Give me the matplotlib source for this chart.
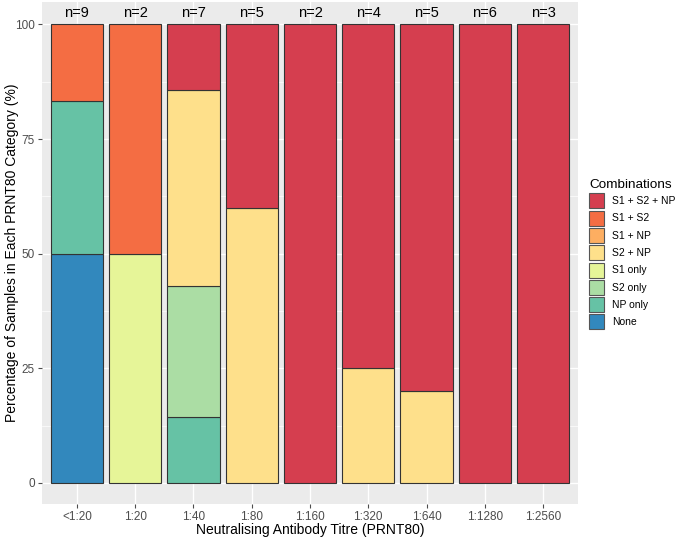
import matplotlib
matplotlib.use("Agg")
import matplotlib.pyplot as plt
from matplotlib.patches import Patch
import numpy as np

plt.rcParams['font.family'] = ['Liberation Sans', 'DejaVu Sans']

titres = ['<1:20', '1:20', '1:40', '1:80', '1:160', '1:320', '1:640', '1:1280', '1:2560']
n_labels = ['n=9', 'n=2', 'n=7', 'n=5', 'n=2', 'n=4', 'n=5', 'n=6', 'n=3']

# stacking order bottom -> top
combos = ['None', 'NP only', 'S2 only', 'S1 only', 'S2 + NP', 'S1 + NP', 'S1 + S2', 'S1 + S2 + NP']
colours = ['#3288BD', '#66C2A5', '#ABDDA4', '#E6F598', '#FEE08B', '#FDAE61', '#F46D43', '#D53E4F']

pct_none = [50, 0, 0, 0, 0, 0, 0, 0, 0]
pct_np = [33.3, 0, 14.3, 0, 0, 0, 0, 0, 0]
pct_s2 = [0, 0, 28.6, 0, 0, 0, 0, 0, 0]
pct_s1 = [0, 50, 0, 0, 0, 0, 0, 0, 0]
pct_s2np = [0, 0, 42.9, 60, 0, 25, 20, 0, 0]
pct_s1np = [0, 0, 0, 0, 0, 0, 0, 0, 0]
pct_s1s2 = [16.7, 50, 0, 0, 0, 0, 0, 0, 0]
pct_all = [0, 0, 14.3, 40, 100, 75, 80, 100, 100]

series = [pct_none, pct_np, pct_s2, pct_s1, pct_s2np, pct_s1np, pct_s1s2, pct_all]

fig = plt.figure(figsize=(6.85, 5.39), dpi=100)
ax = fig.add_axes([42 / 685, 1 - 504 / 539, (578 - 42) / 685, (504 - 2) / 539])
ax.set_facecolor('#EBEBEB')

x = np.arange(len(titres))
bottom = np.zeros(len(titres))
for vals, col in zip(series, colours):
    vals = np.array(vals, dtype=float)
    mask = vals > 0
    ax.bar(x[mask], vals[mask], bottom=bottom[mask], width=0.9, color=col,
           edgecolor='#333333', linewidth=0.8, zorder=3)
    bottom += vals

for xi, lab in zip(x, n_labels):
    ax.text(xi, 102.6, lab, ha='center', va='center', fontsize=10.5, color='black')

ax.set_xlim(-0.6, len(titres) - 0.4)
ax.set_ylim(-4.6, 104.9)
ax.set_yticks([0, 25, 50, 75, 100])
ax.set_yticks([12.5, 37.5, 62.5, 87.5], minor=True)
ax.set_xticks(x)
ax.set_xticklabels(titres)
ax.grid(which='major', color='white', linewidth=1.0, zorder=0)
ax.grid(which='minor', axis='y', color='white', linewidth=0.5, zorder=0)
ax.tick_params(axis='both', which='major', colors='#4D4D4D', labelcolor='#4D4D4D',
               labelsize=8.5, length=3, width=0.8, pad=2)
ax.tick_params(axis='y', which='minor', length=0)
for s in ax.spines.values():
    s.set_visible(False)

ax.set_xlabel('Neutralising Antibody Titre (PRNT80)', fontsize=10)
ax.set_ylabel('Percentage of Samples in Each PRNT80 Category (%)', fontsize=10)
ax.xaxis.set_label_coords(0.5, -(530 - 504) / 502)
ax.xaxis.label.set_va('center')
ax.yaxis.set_label_coords(-(42 - 12) / 536, 0.5)
ax.yaxis.label.set_va('center')

handles = [Patch(facecolor=c, edgecolor='#555555', linewidth=0.8, label=l)
           for c, l in zip(colours[::-1], combos[::-1])]
leg = fig.legend(handles=handles, title='Combinations', loc='upper left',
                 bbox_to_anchor=(589 / 685, 1 - 179 / 539), frameon=False,
                 fontsize=7.5, title_fontsize=9.7, handlelength=1.45, handleheight=1.84,
                 labelspacing=0.22, handletextpad=0.75, borderaxespad=0, borderpad=0)
leg._legend_box.align = 'left'

fig.savefig('out.png', dpi=100)
